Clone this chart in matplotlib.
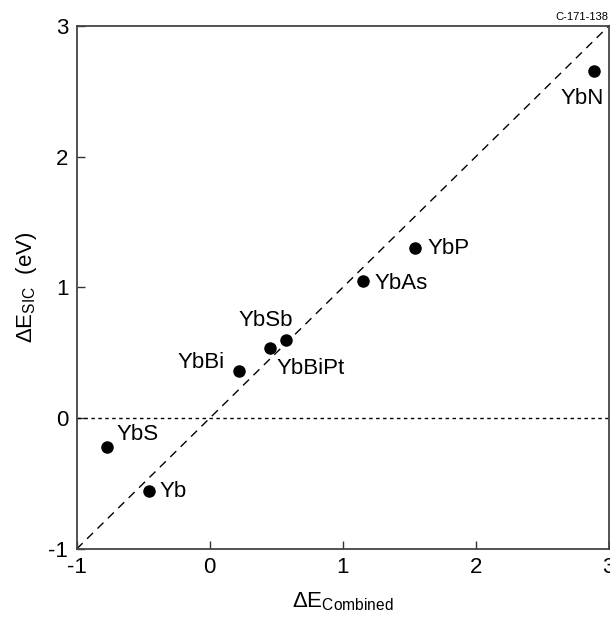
import matplotlib
matplotlib.use("Agg")
import matplotlib.pyplot as plt

plt.rcParams['font.family'] = ['Liberation Sans', 'DejaVu Sans']
plt.rcParams['mathtext.fontset'] = 'custom'
plt.rcParams['mathtext.rm'] = 'Liberation Sans'
plt.rcParams['mathtext.it'] = 'Liberation Sans'
plt.rcParams['mathtext.default'] = 'regular'

# data
compounds = ["Yb", "YbS", "YbBi", "YbBiPt", "YbSb", "YbAs", "YbP", "YbN"]
dE_combined = [-0.46, -0.77, 0.22, 0.45, 0.57, 1.155, 1.545, 2.89]
dE_sic = [-0.56, -0.22, 0.36, 0.54, 0.60, 1.05, 1.30, 2.655]
x_ticks = [-1, 0, 1, 2, 3]
y_ticks = [-1, 0, 1, 2, 3]

# label placement (offset in points, alignment)
label_offsets = {
    "Yb": (8, 0, "left", "center"),
    "YbS": (7, 9, "left", "center"),
    "YbBi": (-10, 6, "right", "center"),
    "YbBiPt": (5, -15, "left", "center"),
    "YbSb": (-14, 14, "center", "center"),
    "YbAs": (8, -2, "left", "center"),
    "YbP": (9, 0, "left", "center"),
    "YbN": (-8.5, -19.5, "center", "center"),
}

fig = plt.figure(figsize=(6.10, 6.18), dpi=100)
ax = fig.add_axes([0.1257, 0.1117, 0.8723, 0.8463])

ax.plot([-1, 3], [-1, 3], color='black', lw=1.0, dashes=(6, 4.5))
ax.axhline(0, color='black', lw=1.0, dashes=(2.5, 2.5))
ax.plot(dE_combined, dE_sic, 'o', color='black', ms=8)

for name, xv, yv in zip(compounds, dE_combined, dE_sic):
    dx, dy, ha, va = label_offsets[name]
    ax.annotate(name, (xv, yv), xytext=(dx, dy), textcoords='offset points',
                ha=ha, va=va, fontsize=16)

ax.set_xlim(-1, 3)
ax.set_ylim(-1, 3)
ax.set_xticks(x_ticks)
ax.set_yticks(y_ticks)
ax.set_xticklabels([str(t) for t in x_ticks])
ax.set_yticklabels([str(t) for t in y_ticks])
ax.tick_params(direction='in', length=6, width=1.0, labelsize=16, color='#333333',
               pad=6)
for s in ax.spines.values():
    s.set_color('#444444')
    s.set_linewidth(1.3)

ax.set_xlabel(r'$\Delta E_{Combined}$', fontsize=16, labelpad=9)
ax.set_ylabel(r'$\Delta E_{SIC}$  (eV)', fontsize=16, labelpad=7)

fig.text(0.997, 0.965, 'C-171-138', ha='right', va='bottom', fontsize=8)

fig.savefig('out.png', dpi=100)
